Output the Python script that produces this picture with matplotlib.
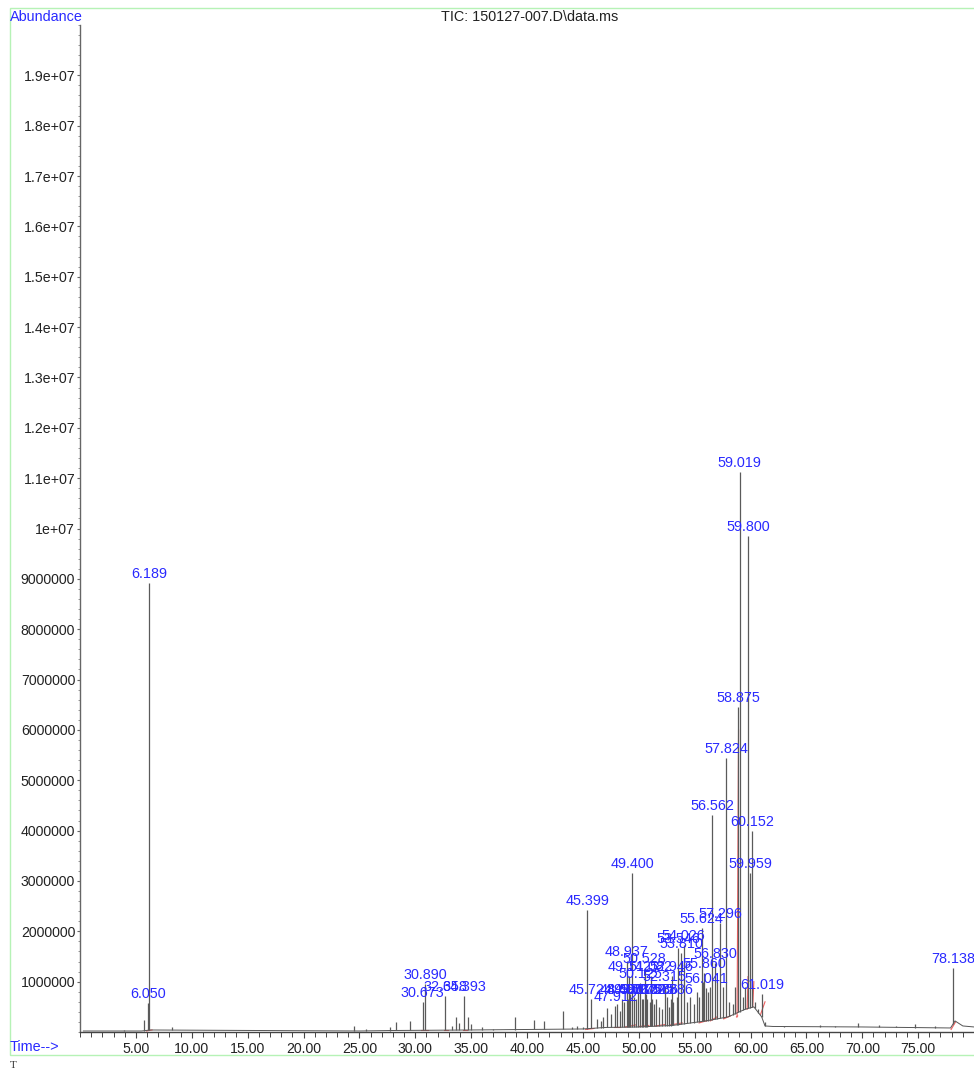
import numpy as np
import matplotlib
matplotlib.use("Agg")
import matplotlib.pyplot as plt
from matplotlib.patches import Rectangle
from matplotlib.ticker import MultipleLocator, FixedLocator, FixedFormatter

# ---------------- data (times in min, abundance in counts) ----------------
# labelled peaks: retention time label, apex abundance
label_times = [6.050, 6.189, 30.673, 30.890, 32.658, 34.393, 45.399, 45.724,
               47.912, 48.490, 48.937, 49.077, 49.142, 49.400, 49.737, 50.125,
               50.272, 50.528, 50.757, 51.082, 51.225, 51.586, 52.315, 52.886,
               52.946, 53.546, 53.810, 54.026, 55.624, 55.860, 56.041, 56.562,
               56.830, 57.296, 57.824, 58.875, 59.019, 59.800, 59.959, 60.152,
               61.019, 78.138]
label_heights = [0.58e6, 8.91e6, 0.60e6, 0.95e6, 0.72e6, 0.72e6, 2.42e6, 0.66e6,
                 0.52e6, 0.66e6, 1.41e6, 0.66e6, 1.11e6, 3.16e6, 0.66e6, 0.97e6,
                 0.66e6, 1.27e6, 0.66e6, 1.12e6, 0.66e6, 0.66e6, 0.91e6, 0.66e6,
                 1.11e6, 1.66e6, 1.56e6, 1.73e6, 2.06e6, 1.17e6, 0.87e6, 4.31e6,
                 1.37e6, 2.16e6, 5.44e6, 6.45e6, 11.12e6, 9.85e6, 3.16e6, 3.99e6,
                 0.75e6, 1.27e6]

# unlabelled minor peaks
minor_times = [3.9, 5.70, 8.2, 24.55, 25.6, 27.7, 28.3, 29.5, 33.3, 33.65, 33.9,
               34.75, 35.0, 36.0, 37.0, 38.9, 40.65, 41.55, 43.2, 44.0, 44.5,
               45.05, 46.3, 46.6, 46.8, 47.2, 47.5, 48.05, 48.3, 48.7, 49.25,
               49.6, 49.9, 50.4, 50.65, 51.0, 51.4, 51.8, 52.1, 52.5, 52.7,
               53.1, 53.4, 54.3, 54.6, 54.9, 55.2, 55.4, 55.75, 56.2, 56.4,
               57.0, 57.5, 58.1, 58.4, 58.6, 59.3, 59.5, 60.4, 60.7, 61.3,
               63.0, 66.2, 67.6, 69.65, 71.5, 73.0, 74.75, 76.5]
minor_heights = [0.03e6, 0.24e6, 0.09e6, 0.12e6, 0.06e6, 0.10e6, 0.20e6, 0.22e6,
                 0.12e6, 0.30e6, 0.18e6, 0.30e6, 0.15e6, 0.10e6, 0.05e6, 0.30e6,
                 0.24e6, 0.21e6, 0.41e6, 0.10e6, 0.12e6, 0.10e6, 0.25e6, 0.22e6,
                 0.30e6, 0.47e6, 0.35e6, 0.55e6, 0.42e6, 0.60e6, 0.75e6,
                 0.70e6, 0.80e6, 0.65e6, 0.75e6, 0.60e6, 0.55e6, 0.50e6, 0.45e6,
                 0.70e6, 0.50e6, 0.60e6, 0.70e6, 0.60e6, 0.70e6, 0.55e6, 0.80e6,
                 0.70e6, 1.00e6, 0.80e6, 0.90e6, 1.00e6, 0.90e6, 0.60e6, 0.55e6,
                 0.90e6, 0.70e6, 0.90e6, 0.60e6, 0.45e6, 0.20e6,
                 0.12e6, 0.13e6, 0.12e6, 0.17e6, 0.14e6, 0.11e6, 0.15e6, 0.11e6]

# baseline of the TIC trace
base_times = [0.3, 5.5, 6.3, 25.0, 28.0, 35.0, 40.0, 45.0, 47.0, 50.0, 53.0,
              56.0, 58.0, 59.5, 60.3, 61.0, 61.3, 62.0, 70.0, 77.9, 78.3,
              79.0, 80.0]
base_levels = [0.02e6, 0.02e6, 0.04e6, 0.02e6, 0.03e6, 0.04e6, 0.05e6, 0.06e6,
               0.09e6, 0.10e6, 0.13e6, 0.22e6, 0.30e6, 0.45e6, 0.50e6, 0.30e6,
               0.12e6, 0.11e6, 0.10e6, 0.08e6, 0.22e6, 0.12e6, 0.10e6]

# integration baselines (red): start time, start level, end time, end level
red_t0 = [5.95, 30.55, 32.55, 34.25, 45.25, 47.8, 48.8, 50.0, 51.5, 52.8, 55.4,
          56.4, 57.6, 58.75, 58.80, 59.70, 60.20, 60.9, 77.95]
red_y0 = [0.02e6, 0.03e6, 0.03e6, 0.04e6, 0.05e6, 0.09e6, 0.10e6, 0.11e6, 0.12e6,
          0.14e6, 0.18e6, 0.22e6, 0.26e6, 0.30e6, 0.30e6, 0.45e6, 0.50e6, 0.35e6, 0.05e6]
red_t1 = [6.45, 31.1, 32.9, 34.6, 46.0, 48.3, 49.7, 50.9, 52.4, 53.9, 56.2,
          57.0, 58.2, 58.85, 58.93, 59.78, 60.30, 61.3, 78.35]
red_y1 = [0.04e6, 0.03e6, 0.03e6, 0.04e6, 0.07e6, 0.09e6, 0.14e6, 0.13e6, 0.15e6,
          0.18e6, 0.23e6, 0.30e6, 0.32e6, 0.32e6, 6.00e6, 1.10e6, 1.00e6, 0.60e6, 0.20e6]

x_major = [5, 10, 15, 20, 25, 30, 35, 40, 45, 50, 55, 60, 65, 70, 75]
x_labels = ["5.00", "10.00", "15.00", "20.00", "25.00", "30.00", "35.00", "40.00",
            "45.00", "50.00", "55.00", "60.00", "65.00", "70.00", "75.00"]
y_major = [1e6 * k for k in range(1, 20)]
y_labels = ["1000000", "2000000", "3000000", "4000000", "5000000", "6000000",
            "7000000", "8000000", "9000000", "1e+07", "1.1e+07", "1.2e+07",
            "1.3e+07", "1.4e+07", "1.5e+07", "1.6e+07", "1.7e+07", "1.8e+07",
            "1.9e+07"]

# ---------------- drawing ----------------
plt.rcParams['font.family'] = ['Liberation Sans', 'DejaVu Sans']
BLUE = '#2a2aff'
W, H = 974, 1071
fig = plt.figure(figsize=(W / 100, H / 100), dpi=100)

ax_l, ax_b, ax_t = 80 / W, (H - 1032) / H, (H - 25) / H
ax = fig.add_axes([ax_l, ax_b, 1 - ax_l, ax_t - ax_b])
ax.set_xlim(0.0, 80.0)
ax.set_ylim(0, 2.0e7)

# baseline trace
ax.plot(base_times, base_levels, color='#555555', lw=0.7, zorder=3)

# peaks as drop lines from the local baseline
all_t = np.array(label_times + minor_times)
all_h = np.array(label_heights + minor_heights)
base_under = np.interp(all_t, base_times, base_levels)
ax.vlines(all_t, base_under, all_h, color='#5a5a5a', lw=0.9, zorder=3)

# integration baselines
for t0, y0, t1, y1 in zip(red_t0, red_y0, red_t1, red_y1):
    ax.plot([t0, t1], [y0, y1], color='#f06060', lw=0.8, zorder=2)

# peak labels
for t, h in zip(label_times, label_heights):
    ax.annotate(f"{t:.3f}", (t, h), xytext=(0, 1.5), textcoords='offset points',
                ha='center', va='bottom', color=BLUE, fontsize=10.4, zorder=5,
                annotation_clip=False)

# axes styling
for s in ['top', 'right']:
    ax.spines[s].set_visible(False)
ax.spines['left'].set_color('#666666')
ax.spines['left'].set_linewidth(1.0)
ax.spines['bottom'].set_color('#444444')
ax.spines['bottom'].set_linewidth(1.0)

ax.xaxis.set_major_locator(FixedLocator(x_major))
ax.xaxis.set_major_formatter(FixedFormatter(x_labels))
ax.xaxis.set_minor_locator(MultipleLocator(1))
ax.yaxis.set_major_locator(FixedLocator(y_major))
ax.yaxis.set_major_formatter(FixedFormatter(y_labels))
ax.yaxis.set_minor_locator(MultipleLocator(2e5))

ax.tick_params(axis='x', which='major', direction='out', length=4.5, width=0.8,
               color='#444444', pad=3, labelsize=10.2, labelcolor='#222222')
ax.tick_params(axis='x', which='minor', direction='out', length=3.5, width=0.7,
               color='#444444')
ax.tick_params(axis='y', which='major', direction='out', length=2.5, width=0.8,
               color='#666666', pad=1, labelsize=10.2, labelcolor='#222222')
ax.tick_params(axis='y', which='minor', direction='out', length=1.5, width=0.6,
               color='#888888')

# frame texts
fig.text(10 / W, (H - 17) / H, "Abundance", color=BLUE, fontsize=10.4,
         ha='left', va='center')
fig.text(530 / W, (H - 17) / H, "TIC: 150127-007.D\\data.ms", color='#222222',
         fontsize=10.4, ha='center', va='center')
fig.text(10 / W, (H - 1047) / H, "Time-->", color=BLUE, fontsize=10.4,
         ha='left', va='center')
fig.text(10 / W, (H - 1066) / H, "T", color='#333333', fontsize=8,
         family='Liberation Serif', ha='left', va='center')

fig.patches.append(Rectangle((10 / W, (H - 1055) / H), 1.2, (1055 - 8) / H,
                             transform=fig.transFigure, fill=False,
                             edgecolor='#b6f2b6', lw=1.0))

fig.savefig("out.png", dpi=100)
